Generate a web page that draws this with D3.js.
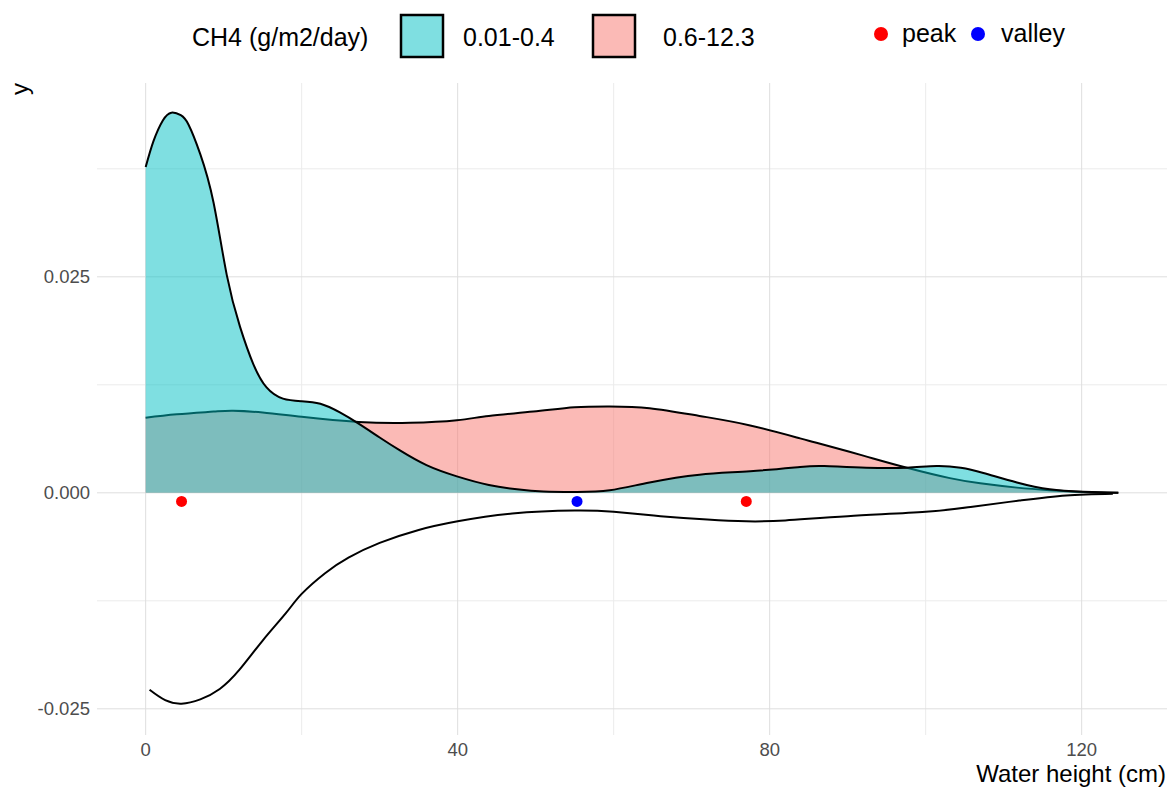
<!DOCTYPE html>
<html>
<head>
<meta charset="utf-8">
<script src="https://cdn.jsdelivr.net/npm/d3@7"></script>
<style>
  html, body { margin: 0; padding: 0; background: #ffffff; }
  svg { display: block; font-family: "Liberation Sans", Arial, sans-serif; }
</style>
</head>
<body>
<svg id="chart" width="1174" height="791"></svg>
<script>
// Density of water height for the two CH4 flux classes
const lowX = [0, 1, 2.2, 3.3, 4.5, 5.5, 7, 8.7, 10.4, 12.1, 13.8, 15.5, 17.6, 20, 22.4, 24.9, 27.3, 30, 32.6, 36, 39.9, 44, 47.6, 51, 55.3, 59.5, 64.6, 71, 77.5, 83.9, 87, 92.4, 97.6, 101.4, 104.5, 107.4, 111.7, 115.9, 120.2, 124.7];
const lowY = [0.0377, 0.0407, 0.0431, 0.0440, 0.0437, 0.0426, 0.0392, 0.0336, 0.0252, 0.0192, 0.0149, 0.0122, 0.0109, 0.0106, 0.0103, 0.0093, 0.0080, 0.0064, 0.0049, 0.0032, 0.0019, 0.0009, 0.0004, 0.00015, 0.0001, 0.0003, 0.0012, 0.0021, 0.0025, 0.0030, 0.0031, 0.0029, 0.0029, 0.0031, 0.0029, 0.0023, 0.0012, 0.0004, 0.00012, 0.0];

const highX = [0, 4, 8.7, 11.2, 15, 20, 27.3, 33.9, 39.9, 44, 49.7, 55, 59.5, 64.6, 71, 77.5, 83.9, 86, 92, 97.6, 103.1, 107, 111.7, 115.9, 120.2, 124.7];
const highY = [0.0087, 0.0091, 0.0094, 0.0095, 0.0093, 0.0088, 0.0082, 0.0081, 0.0084, 0.0089, 0.0094, 0.0099, 0.0100, 0.0098, 0.0089, 0.0078, 0.0063, 0.0058, 0.0043, 0.0029, 0.0017, 0.0011, 0.0006, 0.0003, 0.0001, 0.0];

// Lower reference curve
const lineX = [0.5, 2.5, 4.6, 7, 9.5, 12, 15, 18, 20, 23, 26, 30, 35, 40, 47, 55, 60, 66, 72, 77, 82, 90, 100, 106, 112, 118, 124];
const lineY = [-0.0228, -0.0240, -0.0244, -0.0239, -0.0227, -0.0205, -0.0171, -0.0139, -0.0117, -0.0093, -0.0075, -0.0058, -0.0043, -0.0033, -0.0024, -0.00205, -0.0022, -0.0027, -0.0031, -0.0033, -0.0032, -0.0027, -0.0022, -0.0016, -0.0009, -0.0003, -0.0001];

// Peaks and valleys
const peakX = [4.6, 77];
const peakY = [-0.001, -0.001];
const valleyX = [55.3];
const valleyY = [-0.001];

const groupNames = ["0.01-0.4", "0.6-12.3"];
const groupColors = ["#00BFC4", "#F8766D"];
const xTicks = [0, 40, 80, 120];
const xMinor = [20, 60, 100];
const yTicks = [-0.025, 0, 0.025];
const yMinor = [-0.0125, 0.0125, 0.0375];

const svg = d3.select("#chart");
const panelL = 97, panelR = 1167, panelT = 83, panelB = 735;

const x = d3.scaleLinear().domain([-6.24, 130.94]).range([panelL, panelR]);
const y = d3.scaleLinear().domain([-0.02803, 0.04743]).range([panelB, panelT]);

// grid
const grid = svg.append("g");
grid.selectAll(".vminor").data(xMinor).join("line")
  .attr("x1", d => x(d)).attr("x2", d => x(d)).attr("y1", panelT).attr("y2", panelB)
  .attr("stroke", "#ebebeb").attr("stroke-width", 1);
grid.selectAll(".hminor").data(yMinor).join("line")
  .attr("x1", panelL).attr("x2", panelR).attr("y1", d => y(d)).attr("y2", d => y(d))
  .attr("stroke", "#ebebeb").attr("stroke-width", 1);
grid.selectAll(".vmajor").data(xTicks).join("line")
  .attr("x1", d => x(d)).attr("x2", d => x(d)).attr("y1", panelT).attr("y2", panelB)
  .attr("stroke", "#dedede").attr("stroke-width", 1);
grid.selectAll(".hmajor").data(yTicks).join("line")
  .attr("x1", panelL).attr("x2", panelR).attr("y1", d => y(d)).attr("y2", d => y(d))
  .attr("stroke", "#dedede").attr("stroke-width", 1);

// densities
const curve = d3.curveNatural;
const area = d3.area().x(d => x(d[0])).y0(y(0)).y1(d => y(d[1])).curve(curve);
const line = d3.line().x(d => x(d[0])).y(d => y(d[1])).curve(curve);

const series = [
  { pts: d3.zip(highX, highY), color: groupColors[1] },
  { pts: d3.zip(lowX, lowY), color: groupColors[0] }
];
series.forEach(s => {
  svg.append("path").attr("d", area(s.pts))
    .attr("fill", s.color).attr("fill-opacity", 0.5);
  svg.append("path").attr("d", line(s.pts))
    .attr("fill", "none").attr("stroke", "#000").attr("stroke-width", 2);
});

svg.append("path").attr("d", line(d3.zip(lineX, lineY)))
  .attr("fill", "none").attr("stroke", "#000").attr("stroke-width", 2);

// points
svg.selectAll(".peak").data(d3.zip(peakX, peakY)).join("circle")
  .attr("cx", d => x(d[0])).attr("cy", d => y(d[1])).attr("r", 5.5).attr("fill", "#ff0000");
svg.selectAll(".valley").data(d3.zip(valleyX, valleyY)).join("circle")
  .attr("cx", d => x(d[0])).attr("cy", d => y(d[1])).attr("r", 5.5).attr("fill", "#0000ff");

// axes labels
const tickFont = 18.5;
const fmtY = d => d3.format(".3f")(d).replace("\u2212", "-");
svg.selectAll(".xt").data(xTicks).join("text")
  .attr("x", d => x(d)).attr("y", 756).attr("text-anchor", "middle")
  .attr("font-size", tickFont).attr("fill", "#4d4d4d").text(d => d3.format("d")(d));
svg.selectAll(".yt").data(yTicks).join("text")
  .attr("x", 90).attr("y", d => y(d)).attr("dy", "0.36em").attr("text-anchor", "end")
  .attr("font-size", tickFont).attr("fill", "#4d4d4d").text(fmtY);

svg.append("text").attr("x", 1166).attr("y", 782).attr("text-anchor", "end")
  .attr("font-size", 24).attr("fill", "#000").text("Water height (cm)");
svg.append("text").attr("transform", "translate(28," + panelT + ") rotate(-90)")
  .attr("text-anchor", "end").attr("font-size", 24).attr("fill", "#000").text("y");

// legend
const lg = svg.append("g");
lg.append("text").attr("x", 192).attr("y", 46).attr("font-size", 25).text("CH4 (g/m2/day)");
const keyX = [401, 593];
const labX = [463, 663];
groupNames.forEach((name, i) => {
  lg.append("rect").attr("x", keyX[i]).attr("y", 15).attr("width", 42).attr("height", 42)
    .attr("fill", "#fff");
  lg.append("rect").attr("x", keyX[i]).attr("y", 15).attr("width", 42).attr("height", 42)
    .attr("fill", groupColors[i]).attr("fill-opacity", 0.5)
    .attr("stroke", "#000").attr("stroke-width", 2.5);
  lg.append("text").attr("x", labX[i]).attr("y", 46).attr("font-size", 25).text(name);
});
const ptLegend = [["peak", "#ff0000", 881, 902], ["valley", "#0000ff", 978, 1001]];
ptLegend.forEach(([name, col, cx, tx]) => {
  lg.append("circle").attr("cx", cx).attr("cy", 34).attr("r", 7).attr("fill", col);
  lg.append("text").attr("x", tx).attr("y", 42).attr("font-size", 25).text(name);
});
</script>
</body>
</html>
